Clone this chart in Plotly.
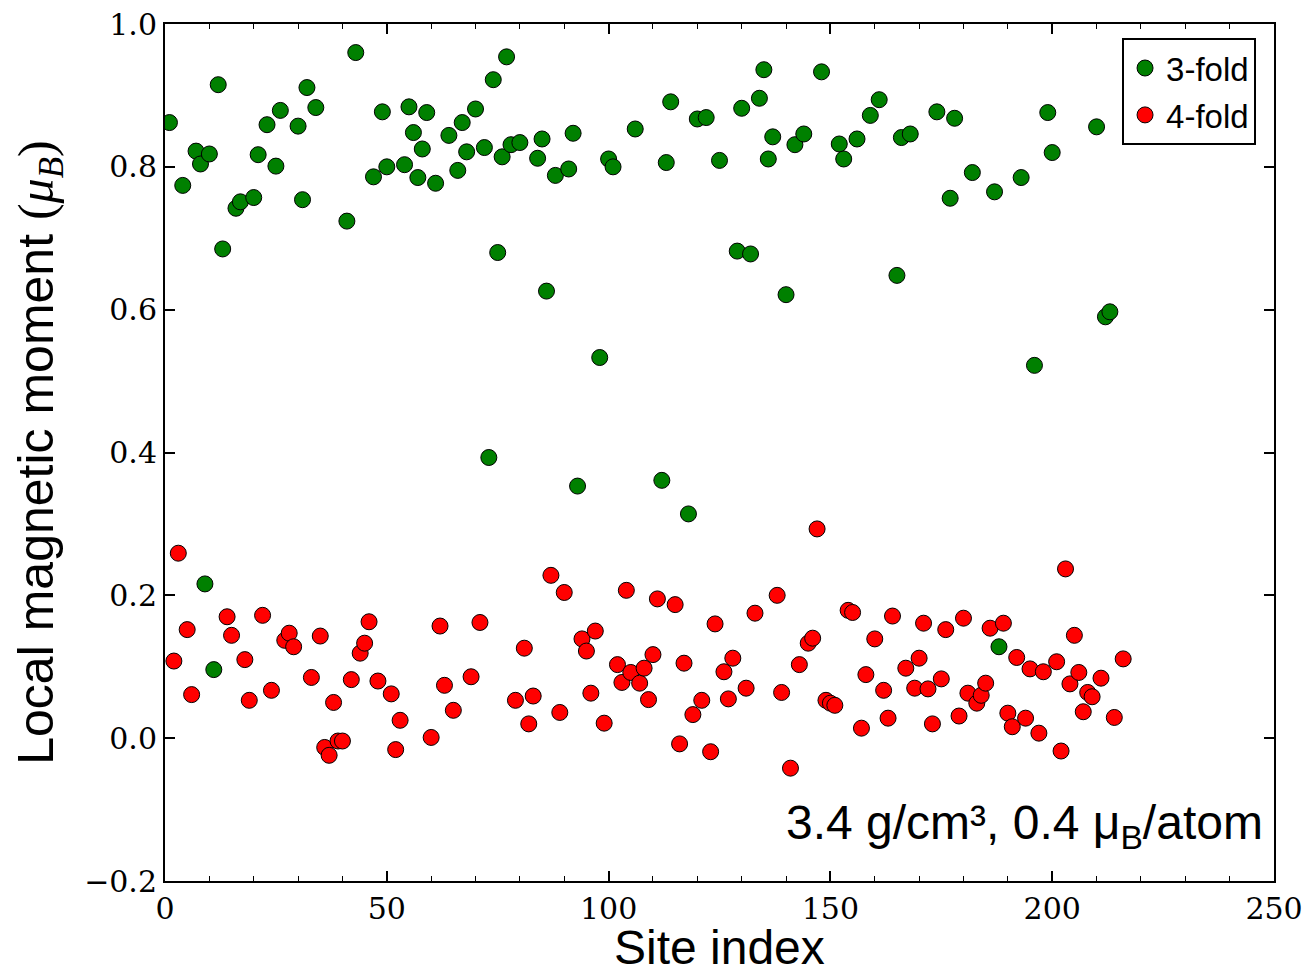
import plotly.graph_objects as go

# Site indices and local moments (mu_B) for threefold-coordinated sites
fold3_site = [1, 4, 7, 8, 9, 10, 11, 12, 13, 16, 17, 20, 21, 23, 25, 26, 30, 31, 32, 34,
              41, 43, 47, 49, 50, 54, 55, 56, 57, 58, 59, 61, 64, 66, 67, 68, 70, 72, 73, 74,
              75, 76, 77, 78, 80, 84, 85, 86, 88, 91, 92, 93, 98, 100, 101, 106, 112, 113, 114, 118,
              120, 122, 125, 129, 130, 132, 134, 135, 136, 137, 140, 142, 144, 148, 152, 153, 156, 159, 161, 165,
              166, 168, 174, 177, 178, 182, 187, 188, 193, 196, 199, 200, 210, 212, 213]
fold3_moment = [0.862, 0.774, 0.822, 0.804, 0.216, 0.818, 0.096, 0.915, 0.685, 0.742, 0.751, 0.757, 0.817, 0.859, 0.801, 0.879, 0.857, 0.754, 0.911, 0.883,
                0.724, 0.960, 0.786, 0.877, 0.800, 0.803, 0.884, 0.848, 0.785, 0.825, 0.876, 0.777, 0.844, 0.795, 0.862, 0.821, 0.881, 0.827, 0.393, 0.922,
                0.680, 0.814, 0.954, 0.831, 0.834, 0.812, 0.839, 0.626, 0.788, 0.797, 0.847, 0.353, 0.533, 0.811, 0.800, 0.853, 0.361, 0.806, 0.891, 0.314,
                0.867, 0.869, 0.809, 0.682, 0.882, 0.678, 0.896, 0.936, 0.811, 0.842, 0.621, 0.831, 0.846, 0.933, 0.832, 0.811, 0.839, 0.872, 0.894, 0.648,
                0.841, 0.846, 0.877, 0.756, 0.868, 0.792, 0.765, 0.128, 0.785, 0.522, 0.876, 0.820, 0.856, 0.590, 0.597]

# Site indices and local moments (mu_B) for fourfold-coordinated sites
fold4_site = [2, 3, 5, 6, 14, 15, 18, 19, 22, 24, 27, 28, 29, 33, 35, 36, 37, 38, 39, 40,
              42, 44, 45, 46, 48, 51, 52, 53, 60, 62, 63, 65, 69, 71, 79, 81, 82, 83, 87, 89,
              90, 94, 95, 96, 97, 99, 102, 103, 104, 105, 107, 108, 109, 110, 111, 115, 116, 117, 119, 121,
              123, 124, 126, 127, 128, 131, 133, 138, 139, 141, 143, 145, 146, 147, 149, 150, 151, 154, 155, 157,
              158, 160, 162, 163, 164, 167, 169, 170, 171, 172, 173, 175, 176, 179, 180, 181, 183, 184, 185, 186,
              189, 190, 191, 192, 194, 195, 197, 198, 201, 202, 203, 204, 205, 206, 207, 208, 209, 211, 214, 216]
fold4_moment = [0.108, 0.259, 0.152, 0.061, 0.170, 0.144, 0.110, 0.053, 0.172, 0.067, 0.137, 0.147, 0.128, 0.085, 0.143, -0.013, -0.024, 0.050, -0.004, -0.004,
                0.082, 0.119, 0.133, 0.163, 0.080, 0.062, -0.016, 0.025, 0.001, 0.157, 0.074, 0.039, 0.086, 0.162, 0.053, 0.126, 0.020, 0.059, 0.228, 0.036,
                0.204, 0.139, 0.122, 0.063, 0.150, 0.021, 0.103, 0.078, 0.207, 0.092, 0.077, 0.098, 0.054, 0.117, 0.195, 0.187, -0.008, 0.105, 0.033, 0.053,
                -0.019, 0.160, 0.093, 0.055, 0.112, 0.070, 0.175, 0.200, 0.064, -0.042, 0.103, 0.133, 0.140, 0.293, 0.053, 0.049, 0.046, 0.179, 0.176, 0.014,
                0.089, 0.139, 0.067, 0.028, 0.171, 0.098, 0.070, 0.112, 0.161, 0.069, 0.020, 0.083, 0.152, 0.031, 0.168, 0.063, 0.049, 0.060, 0.077, 0.154,
                0.161, 0.035, 0.016, 0.113, 0.028, 0.097, 0.007, 0.093, 0.107, -0.018, 0.237, 0.076, 0.144, 0.092, 0.037, 0.064, 0.058, 0.084, 0.029, 0.111]

series_names = ["3-fold", "4-fold"]
series_colors = ["#008000", "#ff0000"]

fig = go.Figure()
for name, color, xs, ys in zip(series_names, series_colors,
                               [fold3_site, fold4_site], [fold3_moment, fold4_moment]):
    fig.add_trace(go.Scatter(
        x=xs, y=ys, mode="markers", name=name, legendgroup=name,
        marker=dict(size=16, color=color, line=dict(color="black", width=1)),
    ))

tick_font = dict(family="DejaVu Serif, Liberation Serif, serif", size=30, color="black")
sans = "Liberation Sans, Arial, sans-serif"

fig.update_layout(
    width=1305, height=969,
    margin=dict(l=165, r=31, t=24, b=88),
    paper_bgcolor="white", plot_bgcolor="white",
    showlegend=True,
    legend=dict(
        x=0.9838, y=0.9836, xanchor="right", yanchor="top",
        bordercolor="black", borderwidth=2, bgcolor="white",
        font=dict(family=sans, size=33, color="black"),
        itemsizing="trace", itemwidth=32, tracegroupgap=1,
    ),
    xaxis=dict(
        range=[0, 250], dtick=50, tick0=0, automargin=False,
        ticks="inside", ticklen=10, tickwidth=1.5, tickcolor="black",
        minor=dict(dtick=10, ticks="inside", ticklen=5, tickwidth=1, tickcolor="black"),
        showline=True, linewidth=2, linecolor="black", mirror="allticks",
        showgrid=False, zeroline=False,
        tickfont=tick_font,
    ),
    yaxis=dict(
        range=[-0.2, 1.0], dtick=0.2, tick0=0, tickformat=".1f", automargin=False,
        ticks="inside", ticklen=10, tickwidth=1.5, tickcolor="black",
        showline=True, linewidth=2, linecolor="black", mirror="allticks",
        showgrid=False, zeroline=False,
        tickfont=tick_font,
        title=dict(
            text='Local magnetic moment <span style="font-family:Liberation Serif">(<i>μ</i><sub><i>B</i></sub>)</span>',
            font=dict(family=sans, size=50, color="black"),
        ),
    ),
    annotations=[
        # x-axis title, placed below the tick labels
        dict(
            text="Site index",
            xref="paper", yref="paper", x=0.5, y=-0.0777,
            xanchor="center", yanchor="middle", showarrow=False,
            font=dict(family=sans, size=48, color="black"),
        ),
        dict(
            text="3.4 g/cm³, 0.4 μ<sub>B</sub>/atom",
            xref="paper", yref="paper", x=0.992, y=0.064,
            xanchor="right", yanchor="middle", showarrow=False,
            font=dict(family=sans, size=48, color="black"),
        ),
    ],
)

fig.write_html("out.html")
